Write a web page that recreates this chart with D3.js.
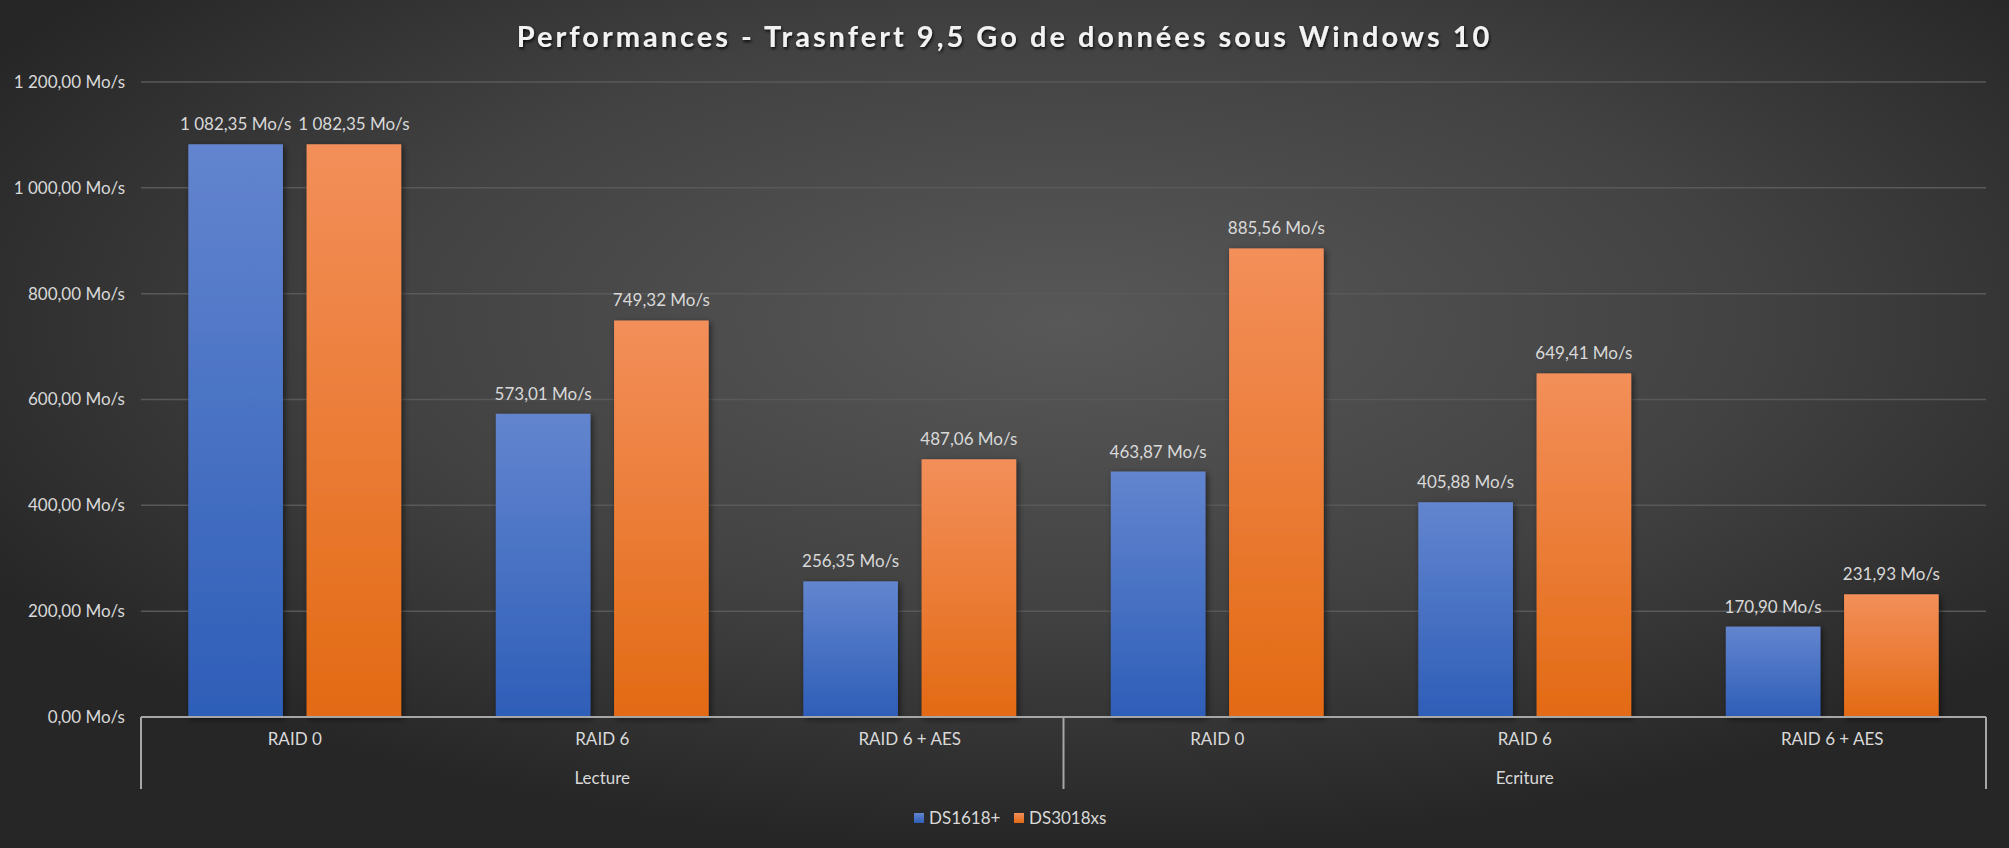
<!DOCTYPE html>
<html><head><meta charset="utf-8">
<script src="https://cdn.jsdelivr.net/npm/d3@7"></script>
<style>
html,body{margin:0;padding:0;background:#2a2a2a;overflow:hidden}
svg{display:block}
text{font-family:Lato,"Open Sans",sans-serif}
</style></head>
<body>
<script>
const title = "Performances - Trasnfert 9,5 Go de données sous Windows 10";
const groups = ["Lecture", "Ecriture"];
const categories = ["RAID 0", "RAID 6", "RAID 6 + AES", "RAID 0", "RAID 6", "RAID 6 + AES"];
const categoryGroup = ["Lecture", "Lecture", "Lecture", "Ecriture", "Ecriture", "Ecriture"];
const seriesNames = ["DS1618+", "DS3018xs"];
const ds1618 = [1082.35, 573.01, 256.35, 463.87, 405.88, 170.90];
const ds3018 = [1082.35, 749.32, 487.06, 885.56, 649.41, 231.93];
const yTicks = [0, 200, 400, 600, 800, 1000, 1200];

const W = 2009, H = 848;
const m = {left: 141, right: W - 1986, top: 82, bottom: H - 717};

const fr = d3.formatLocale({decimal: ",", thousands: " ", grouping: [3], currency: ["", ""]});
const fmt = v => fr.format(",.2f")(v) + " Mo/s";

const svg = d3.select("body").append("svg").attr("width", W).attr("height", H);
const defs = svg.append("defs");

const bg = defs.append("radialGradient").attr("id", "bg")
  .attr("cx", 0.53).attr("cy", 0.38).attr("r", 0.62).attr("fx", 0.53).attr("fy", 0.38);
bg.append("stop").attr("offset", "0%").attr("stop-color", "#585858");
bg.append("stop").attr("offset", "55%").attr("stop-color", "#424242");
bg.append("stop").attr("offset", "100%").attr("stop-color", "#262626");

const colors = [
  {id: "gBlue", top: "#6385cf", bot: "#2e5eb8"},
  {id: "gOrange", top: "#f38f5a", bot: "#e36a14"}
];
colors.forEach(c => {
  const g = defs.append("linearGradient").attr("id", c.id).attr("x1", 0).attr("y1", 0).attr("x2", 0).attr("y2", 1);
  g.append("stop").attr("offset", "0%").attr("stop-color", c.top);
  g.append("stop").attr("offset", "100%").attr("stop-color", c.bot);
});
const sh = defs.append("filter").attr("id", "sh").attr("x", "-20%").attr("y", "-20%").attr("width", "140%").attr("height", "140%");
sh.append("feDropShadow").attr("dx", 2).attr("dy", 2).attr("stdDeviation", 3).attr("flood-color", "#000").attr("flood-opacity", 0.55);
const tsh = defs.append("filter").attr("id", "tsh").attr("x", "-5%").attr("y", "-30%").attr("width", "110%").attr("height", "160%");
tsh.append("feDropShadow").attr("dx", 1).attr("dy", 2).attr("stdDeviation", 1.5).attr("flood-color", "#000").attr("flood-opacity", 0.8);

svg.append("rect").attr("width", W).attr("height", H).attr("fill", "url(#bg)");

const y = d3.scaleLinear().domain([0, 1200]).range([H - m.bottom, m.top]);
const x0 = d3.scaleBand().domain(d3.range(categories.length)).range([m.left, W - m.right]).padding(0);
const x1 = d3.scaleBand().domain([0, 1]).range([0, x0.bandwidth()]).paddingInner(0.2).paddingOuter(0.4);

// gridlines
svg.append("g").selectAll("line").data(yTicks.filter(t => t > 0)).join("line")
  .attr("x1", m.left).attr("x2", W - m.right)
  .attr("y1", d => y(d)).attr("y2", d => y(d))
  .attr("stroke", "#595959").attr("stroke-width", 1.5);

// y labels
const yAxis = svg.append("g").attr("transform", `translate(${m.left - 16},0)`)
  .call(d3.axisLeft(y).tickValues(yTicks).tickFormat(fmt).tickSize(0).tickPadding(0));
yAxis.select(".domain").remove();
yAxis.selectAll("text").attr("fill", "#d9d9d9").style("font-size", "17px").style("font-family", "Lato");

// bars
const series = [ds1618, ds3018];
series.forEach((vals, si) => {
  const g = svg.append("g");
  g.selectAll("rect").data(vals).join("rect")
    .attr("x", (d, i) => x0(i) + x1(si))
    .attr("y", d => y(d))
    .attr("width", x1.bandwidth())
    .attr("height", d => y(0) - y(d))
    .attr("fill", `url(#${colors[si].id})`)
    .attr("filter", "url(#sh)");
  g.selectAll("text").data(vals).join("text")
    .attr("x", (d, i) => x0(i) + x1(si) + x1.bandwidth() / 2)
    .attr("y", d => y(d) - 14)
    .attr("text-anchor", "middle")
    .attr("fill", "#d9d9d9").style("font-size", "17px")
    .text(d => fmt(d));
});

// x axis
const axY = y(0);
svg.append("line").attr("x1", m.left).attr("x2", W - m.right).attr("y1", axY).attr("y2", axY)
  .attr("stroke", "#a6a6a6").attr("stroke-width", 2);
const groupBounds = [m.left, x0(3), W - m.right];
svg.append("g").selectAll("line").data(groupBounds).join("line")
  .attr("x1", d => d).attr("x2", d => d).attr("y1", axY).attr("y2", 789)
  .attr("stroke", "#a6a6a6").attr("stroke-width", 2);

svg.append("g").selectAll("text").data(categories).join("text")
  .attr("x", (d, i) => x0(i) + x0.bandwidth() / 2)
  .attr("y", 745)
  .attr("text-anchor", "middle").attr("fill", "#d9d9d9").style("font-size", "17px")
  .text(d => d);

svg.append("g").selectAll("text").data(groups).join("text")
  .attr("x", g => {
    const idx = categoryGroup.map((c, i) => c === g ? i : -1).filter(i => i >= 0);
    return (x0(idx[0]) + x0(idx[idx.length - 1]) + x0.bandwidth()) / 2;
  })
  .attr("y", 784)
  .attr("text-anchor", "middle").attr("fill", "#d9d9d9").style("font-size", "17px")
  .text(d => d);

// title
svg.append("text").attr("x", W / 2).attr("y", 47).attr("text-anchor", "middle")
  .attr("fill", "#f2f2f2").style("font-size", "29px").style("font-weight", "bold")
  .style("letter-spacing", "3px").attr("filter", "url(#tsh)")
  .text(title);

// legend
const leg = svg.append("g");
const legX = [914, 1014];
seriesNames.forEach((n, i) => {
  leg.append("rect").attr("x", legX[i]).attr("y", 813).attr("width", 10).attr("height", 10)
    .attr("fill", `url(#${colors[i].id})`);
  leg.append("text").attr("x", legX[i] + 15).attr("y", 824).attr("fill", "#d9d9d9")
    .style("font-size", "17px").text(n);
});
</script>
</body></html>
